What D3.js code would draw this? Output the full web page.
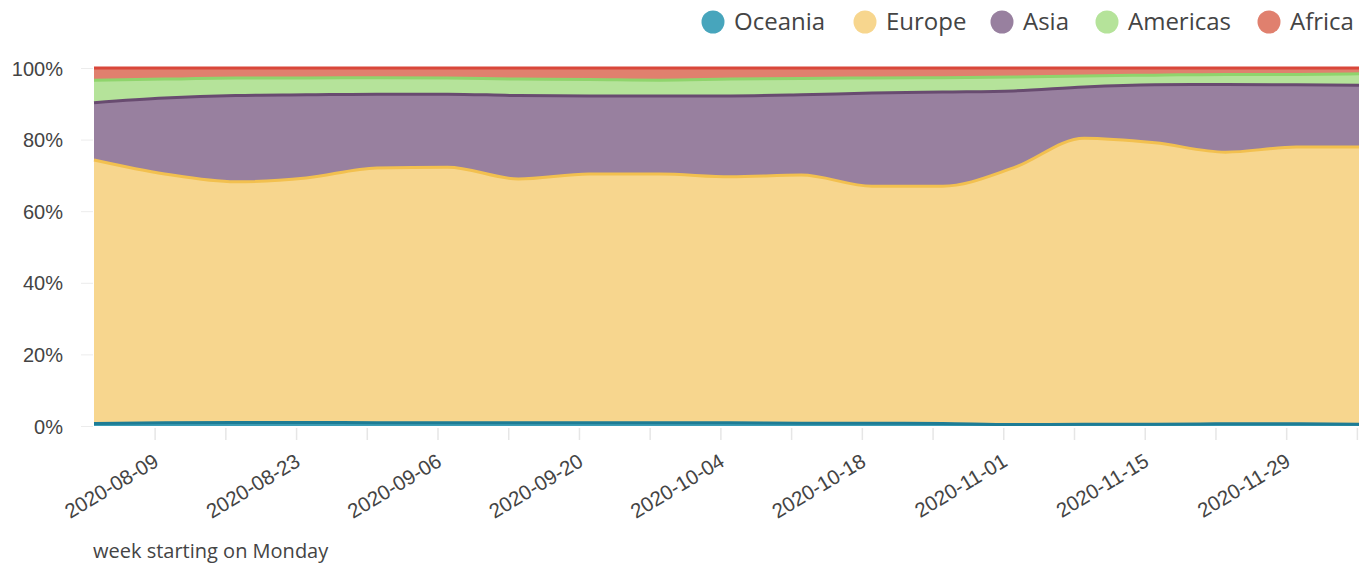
<!DOCTYPE html>
<html>
<head>
<meta charset="utf-8">
<script src="https://cdn.jsdelivr.net/npm/d3@7"></script>
<style>
  body { margin: 0; background: #fff; }
  svg { display: block; font-family: "Open Sans", sans-serif; }
</style>
</head>
<body>
<svg></svg>
<script>
// weekly data, Monday of each week
const weeks = ["2020-08-03","2020-08-10","2020-08-17","2020-08-24","2020-08-31","2020-09-07",
  "2020-09-14","2020-09-21","2020-09-28","2020-10-05","2020-10-12","2020-10-19","2020-10-26",
  "2020-11-02","2020-11-09","2020-11-16","2020-11-23","2020-11-30","2020-12-07"];

const regions = ["Oceania", "Europe", "Asia", "Americas", "Africa"];

// share of each region (%)
const oceania  = [0.7, 0.9, 1.0, 1.0, 0.9, 0.9, 0.9, 0.9, 0.9, 0.9, 0.8, 0.8, 0.7, 0.4, 0.5, 0.5, 0.6, 0.6, 0.5];
const europe   = [73.6, 69.5, 67.2, 68.3, 71.2, 71.4, 68.1, 69.5, 69.5, 68.7, 69.3, 66.2, 66.3, 71.7, 79.9, 78.6, 75.9, 77.3, 77.4];
const asia     = [16.0, 21.2, 24.1, 23.2, 20.6, 20.4, 23.3, 21.8, 21.8, 22.6, 22.4, 26.0, 26.3, 21.5, 14.3, 16.2, 18.9, 17.4, 17.3];
const americas = [6.3, 5.3, 4.9, 4.7, 4.6, 4.5, 4.6, 4.6, 4.4, 4.7, 4.6, 4.2, 4.0, 3.9, 3.1, 2.7, 2.8, 2.9, 3.2];
const africa   = [3.4, 3.1, 2.8, 2.8, 2.7, 2.8, 3.1, 3.2, 3.4, 3.1, 2.9, 2.8, 2.7, 2.5, 2.2, 2.0, 1.8, 1.8, 1.6];

// axis ticks: every Sunday, labels every second one
const tickDates = ["2020-08-09","2020-08-16","2020-08-23","2020-08-30","2020-09-06","2020-09-13",
  "2020-09-20","2020-09-27","2020-10-04","2020-10-11","2020-10-18","2020-10-25","2020-11-01",
  "2020-11-08","2020-11-15","2020-11-22","2020-11-29","2020-12-06"];
const tickLabels = ["2020-08-09","2020-08-23","2020-09-06","2020-09-20","2020-10-04",
  "2020-10-18","2020-11-01","2020-11-15","2020-11-29"];
const yTicks = [0, 0.2, 0.4, 0.6, 0.8, 1];

const width = 1359, height = 564;
const fills   = { Oceania: "#3c9cb4", Europe: "#f7d68e", Asia: "#98809f", Americas: "#b5e39a", Africa: "#e0806e" };
const strokes = { Oceania: "#1d7c95", Europe: "#f2c04f", Asia: "#684b70", Americas: "#8fd46c", Africa: "#d9473a" };
const legendColors = { Oceania: "#47a5bc", Europe: "#f7d68e", Asia: "#98809f", Americas: "#b5e39a", Africa: "#e0806e" };

const parse = d3.utcParse("%Y-%m-%d");
const series = { Oceania: oceania, Europe: europe, Asia: asia, Americas: americas, Africa: africa };
const table = weeks.map((w, i) => {
  const row = { date: parse(w) };
  regions.forEach(r => row[r] = series[r][i]);
  return row;
});

const stack = d3.stack().keys(regions).offset(d3.stackOffsetExpand);
const layers = stack(table);

const svg = d3.select("svg").attr("width", width).attr("height", height);

const x = d3.scaleUtc()
  .domain([parse("2020-08-03"), parse("2020-12-07")])
  .range([94, 1367]);
const y = d3.scaleLinear().domain([0, 1]).range([426, 68]);

// y grid + labels
const yAxis = svg.append("g")
  .attr("transform", "translate(93,0)")
  .call(d3.axisLeft(y).tickValues(yTicks).tickFormat(d3.format(".0%")).tickSize(12).tickPadding(18));
yAxis.select(".domain").remove();
yAxis.selectAll(".tick line").attr("stroke", "#ececec");
yAxis.selectAll(".tick text").attr("fill", "#444").style("font-size", "20px").attr("dy", "0.35em");

// x ticks
const xAxis = svg.append("g")
  .attr("transform", "translate(0,428)")
  .call(d3.axisBottom(x).tickValues(tickDates.map(parse)).tickSize(12)
    .tickFormat(d => { const s = d3.utcFormat("%Y-%m-%d")(d); return tickLabels.includes(s) ? s : ""; }));
xAxis.select(".domain").remove();
xAxis.selectAll(".tick line").attr("stroke", "#e6e6e6").attr("stroke-width", 1.5);
xAxis.selectAll(".tick text")
  .attr("fill", "#444")
  .style("font-size", "20.5px")
  .attr("text-anchor", "end")
  .attr("dy", null)
  .attr("y", 0)
  .attr("transform", "translate(5,37) rotate(-31)");

// areas
const area = d3.area()
  .curve(d3.curveMonotoneX)
  .x(d => x(d.data.date))
  .y0(d => y(d[0]))
  .y1(d => y(d[1]));
const topLine = d3.line()
  .curve(d3.curveMonotoneX)
  .x(d => x(d.data.date))
  .y(d => y(d[1]));

const plot = svg.append("g");
plot.selectAll(".area")
  .data(layers)
  .enter()
  .append("path")
  .attr("class", "area")
  .attr("d", area)
  .attr("fill", d => fills[d.key]);

plot.selectAll(".edge")
  .data(layers)
  .enter()
  .append("path")
  .attr("class", "edge")
  .attr("d", topLine)
  .attr("fill", "none")
  .attr("stroke", d => strokes[d.key])
  .attr("stroke-width", 3);

// axis title
svg.append("text")
  .attr("x", 93)
  .attr("y", 558)
  .attr("fill", "#444")
  .style("font-size", "20px")
  .text("week starting on Monday");

// legend
const legendX = [713, 865, 1002, 1107, 1269];
const legend = svg.append("g");
const items = legend.selectAll(".item")
  .data(regions)
  .enter()
  .append("g")
  .attr("class", "item")
  .attr("transform", (d, i) => `translate(${legendX[i]},22)`);
items.append("circle").attr("r", 11.5).attr("fill", d => legendColors[d]);
items.append("text")
  .attr("x", 21)
  .attr("dy", "0.35em")
  .attr("fill", "#444")
  .style("font-size", "24px")
  .text(d => d);
</script>
</body>
</html>
